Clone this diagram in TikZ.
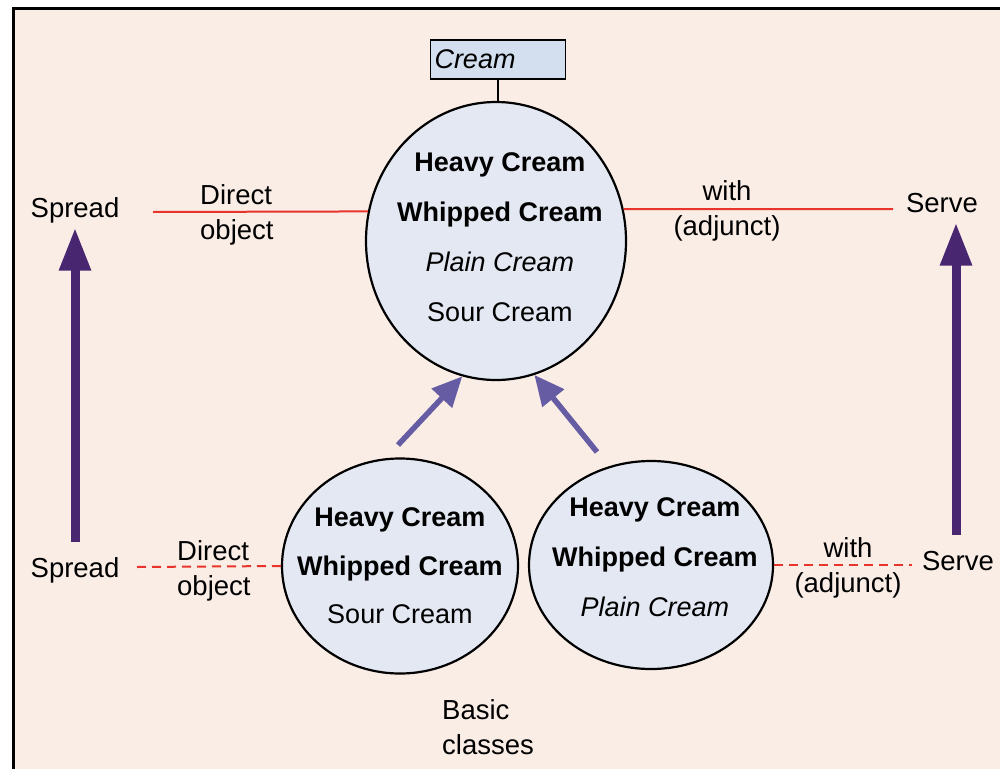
\documentclass[tikz,border=0pt]{standalone}
\usepackage{fontspec}
\setmainfont{Liberation Sans}
\usetikzlibrary{shapes.geometric,arrows.meta}
\definecolor{bgc}{RGB}{250,237,230}
\definecolor{ellc}{RGB}{227,232,242}
\definecolor{boxc}{RGB}{211,222,238}
\definecolor{redl}{RGB}{232,52,42}
\definecolor{bigp}{RGB}{72,38,112}
\definecolor{smallp}{RGB}{101,92,163}
\begin{document}
\begin{tikzpicture}[x=1pt,y=-1pt,
  cls/.style={ellipse, draw=black, line width=2.2pt, fill=ellc, inner sep=0pt},
  ctext/.style={align=center, font=\fontsize{27}{50}\selectfont, inner sep=0pt},
  lbl/.style={font=\fontsize{27.5}{34}\selectfont, inner sep=0pt, text height=19pt, text depth=6pt},
  lbl2/.style={font=\fontsize{27.5}{35}\selectfont, inner sep=0pt},
  relline/.style={draw=redl, line width=2pt},
  reldash/.style={relline, dash pattern=on 9pt off 6pt},
  bigarrow/.style={draw=bigp, line width=9pt, -{Triangle[width=30pt,length=43pt]}},
  smallarrow/.style={draw=smallp, line width=5.5pt, -{Triangle[width=27pt,length=30pt]}}
]
\useasboundingbox (0,0) rectangle (1000,768);
\fill[white] (0,0) rectangle (1000,768);
\draw[line width=3pt, fill=bgc] (13.5,8.7) rectangle (1012,782);

% classes
\node[cls, minimum width=260pt, minimum height=278pt] (top) at (496,241) {};
\node[cls, minimum width=236pt, minimum height=215pt] (bl) at (400,566) {};
\node[cls, minimum width=244pt, minimum height=208pt] (br) at (651,565) {};

\node[ctext] (toptext) at (500,237) {\textbf{Heavy Cream}\\\textbf{Whipped Cream}\\\textit{Plain Cream}\\Sour Cream};
\node[ctext, font=\fontsize{27}{48.5}\selectfont] (bltext) at (400,566) {\textbf{Heavy Cream}\\\textbf{Whipped Cream}\\Sour Cream};
\node[ctext] (brtext) at (655,557) {\textbf{Heavy Cream}\\\textbf{Whipped Cream}\\\textit{Plain Cream}};

% Cream box
\node[draw, line width=1.8pt, fill=boxc, minimum width=135pt, minimum height=39pt,
      text width=127pt, align=left, inner sep=4pt,
      font=\fontsize{27}{30}\selectfont\itshape] (cream) at (498,59.5) {Cream};
\draw[line width=1.8pt] (cream.south) -- (cream.south |- top.north);

% labels
\node[lbl] (sp1) at (75,211) {Spread};
\node[lbl] (sp2) at (75,571) {Spread};
\node[lbl] (sv1) at (942,206) {Serve};
\node[lbl] (sv2) at (958,564) {Serve};
\node[lbl2, align=left, anchor=west] (do1) at (200,215) {Direct\\object};
\node[lbl2, align=left, anchor=west] (do2) at (177,571) {Direct\\object};
\node[lbl2, align=center] (wa1) at (727,211) {with\\(adjunct)};
\node[lbl2, align=center] (wa2) at (848,568) {with\\(adjunct)};
\node[lbl2, align=left, anchor=west] (basic) at (442,727) {Basic\\classes};

% relation lines
\coordinate (l1) at (153,212);
\coordinate (r1) at (893,209);
\coordinate (l2) at (137,567);
\coordinate (r2) at (912,565);
\draw[relline] (l1) -- (top.167);
\draw[relline] (top.14) -- (r1);
\draw[reldash] (l2) -- (bl.west);
\draw[reldash] (br.east) -- (r2);

% big arrows
\draw[bigarrow, shorten <=16pt, shorten >=4pt] (sp2.north) -- (sp1.south);
\draw[bigarrow, shorten <=16pt, shorten >=4pt] ([xshift=-2pt]sv2.north) -- ([xshift=-2pt]sv2.north |- sv1.south);

% specialisation arrows
\coordinate (a1) at (398,445);
\coordinate (a2) at (597,452);
\draw[smallarrow] (a1) -- (top.256);
\draw[smallarrow] (a2) -- (top.286);
\end{tikzpicture}
\end{document}
